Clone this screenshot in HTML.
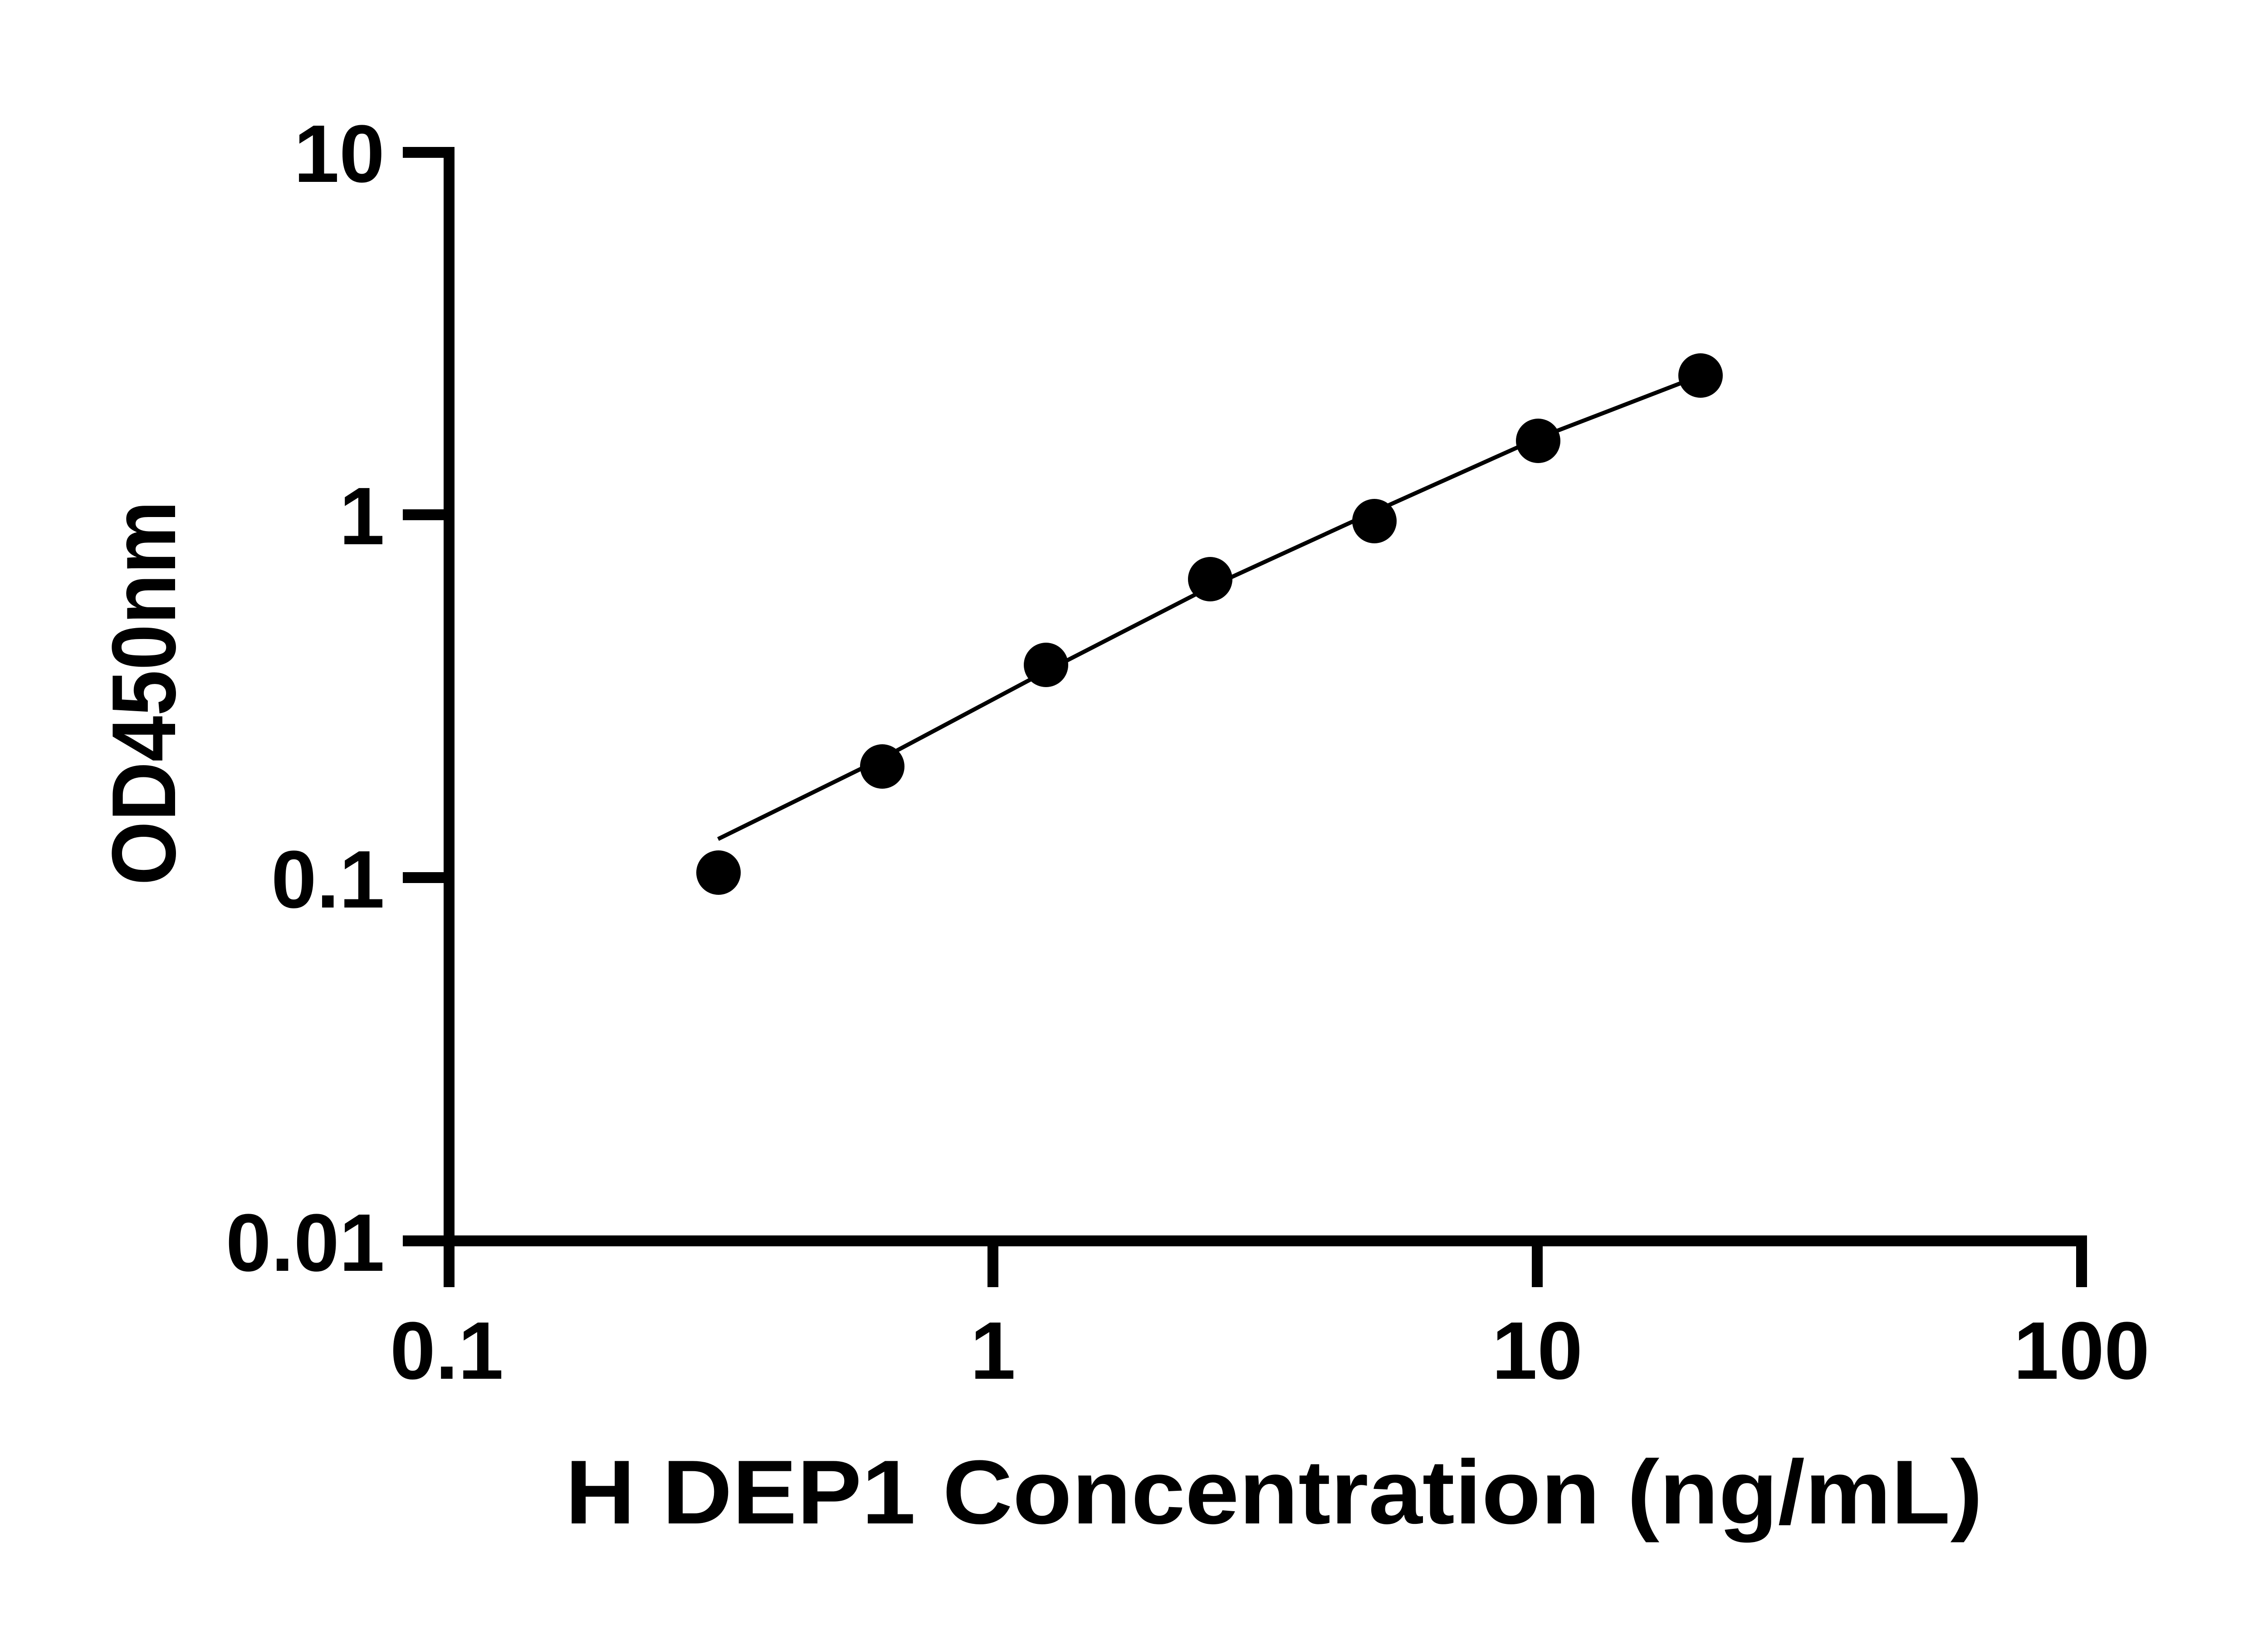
<!DOCTYPE html>
<html><head><style>html,body{margin:0;padding:0;background:#fff;}</style></head>
<body>
<svg width="5142" height="3600" viewBox="0 0 5142 3600" xmlns="http://www.w3.org/2000/svg">
<g stroke="#000" fill="none" stroke-width="24">
<line x1="990" y1="324" x2="990" y2="2838"/>
<line x1="978" y1="2736" x2="4601" y2="2736"/>
<line x1="888" y1="336" x2="990" y2="336"/>
<line x1="888" y1="1135" x2="990" y2="1135"/>
<line x1="888" y1="1935" x2="990" y2="1935"/>
<line x1="888" y1="2736" x2="990" y2="2736"/>
<line x1="2189" y1="2736" x2="2189" y2="2838"/>
<line x1="3389" y1="2736" x2="3389" y2="2838"/>
<line x1="4589" y1="2724" x2="4589" y2="2838"/>
<polyline stroke-width="9" points="1583,1850 1945,1672 2306,1480 2668,1294 3030,1128 3391,966 3749,828"/>
</g>
<g fill="#000">
<circle cx="1584" cy="1924" r="49"/>
<circle cx="1945" cy="1690" r="49"/>
<circle cx="2306" cy="1466" r="49"/>
<circle cx="2668" cy="1277" r="49"/>
<circle cx="3030" cy="1149" r="49"/>
<circle cx="3391" cy="972" r="49"/>
<circle cx="3749" cy="828" r="49"/>
</g>
<g font-family="Liberation Sans, sans-serif" font-weight="bold" font-size="180" fill="#000">
<text x="848" y="401" text-anchor="end">10</text>
<text x="848" y="1200" text-anchor="end">1</text>
<text x="848" y="2001" text-anchor="end">0.1</text>
<text x="848" y="2802" text-anchor="end">0.01</text>
<text x="985" y="3040" text-anchor="middle">0.1</text>
<text x="2189" y="3040" text-anchor="middle">1</text>
<text x="3389" y="3040" text-anchor="middle">10</text>
<text x="4589" y="3040" text-anchor="middle">100</text>
</g>
<text x="1246" y="3359" font-family="Liberation Sans, sans-serif" font-weight="bold" font-size="200" textLength="3125" lengthAdjust="spacingAndGlyphs">H DEP1 Concentration (ng/mL)</text>
<text transform="translate(386,1952) rotate(-90)" x="0" y="0" font-family="Liberation Sans, sans-serif" font-weight="bold" font-size="200" textLength="848" lengthAdjust="spacingAndGlyphs">OD450nm</text>
</svg>
</body></html>
